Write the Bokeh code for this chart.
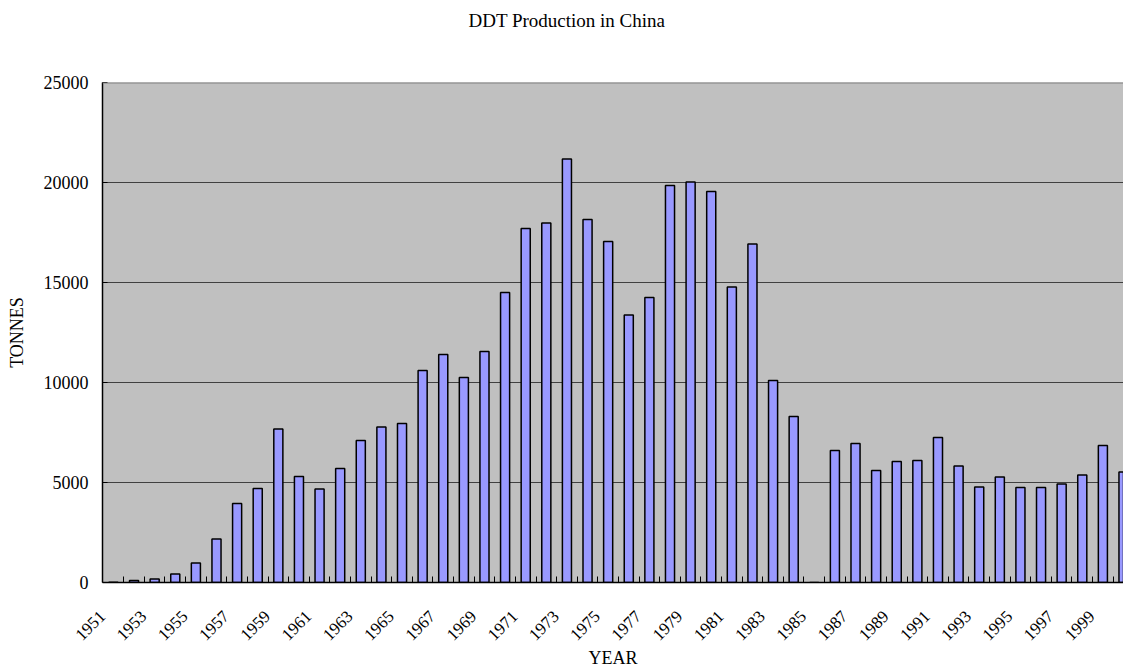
from bokeh.plotting import figure
from bokeh.models import Range1d, FixedTicker, Span, CustomJSTickFormatter, Title
from bokeh.embed import file_html
from bokeh.resources import INLINE
import math

years = list(range(1951, 2001))
tonnes = [10, 100, 180, 430, 970, 2180, 3950, 4700, 7670, 5300,
          4670, 5700, 7100, 7770, 7950, 10600, 11400, 10250, 11550, 14500,
          17700, 17970, 21170, 18150, 17050, 13380, 14250, 19850, 20020, 19550,
          14770, 16930, 10100, 8300, 0, 6600, 6950, 5600, 6050, 6100,
          7250, 5830, 4780, 5270, 4750, 4750, 4920, 5380, 6850, 5520]
label_years = list(range(1951, 2000, 2))
y_ticks = [0, 5000, 10000, 15000, 20000, 25000]
title_text = "DDT Production in China"

FONT = "Liberation Serif"
LABEL_SHIFT = 0.53  # rotated labels sit left of their category, as in the source

p = figure(frame_width=1021, frame_height=500,
           min_border_left=102, min_border_right=0, min_border_top=82, min_border_bottom=88,
           x_range=Range1d(1950.47, 2000.0), y_range=Range1d(0, 25000),
           output_backend="svg", toolbar_location=None, tools="")

p.title.text = title_text
p.title.text_font = FONT
p.title.text_font_size = "19px"
p.title.text_font_style = "normal"
p.title.text_color = "black"
p.title.align = "left"
p.title.offset = 366
p.title.standoff = 10

# empty spacer between the title and the plot area
spacer = Title(text=" ", text_font_size="19px", standoff=24)
p.add_layout(spacer, "above")

p.border_fill_color = "white"
p.outline_line_color = None
p.background_fill_color = "#C0C0C0"

p.vbar(x=years, top=tonnes, width=0.44, fill_color="#9999FF",
       line_color="black", line_width=1.5)

top = Span(location=25000, dimension="width", line_color="#808080", line_width=2)
p.add_layout(top)

# y axis
p.yaxis.ticker = FixedTicker(ticks=y_ticks)
p.yaxis.axis_label = "TONNES"
p.yaxis.axis_label_text_font = FONT
p.yaxis.axis_label_text_font_size = "18px"
p.yaxis.axis_label_text_font_style = "normal"
p.yaxis.axis_label_text_color = "black"
p.yaxis.axis_label_standoff = 14
p.yaxis.major_label_text_font = FONT
p.yaxis.major_label_text_font_size = "18px"
p.yaxis.major_label_text_color = "black"
p.yaxis.major_label_standoff = 14
p.yaxis.major_tick_in = 5
p.yaxis.major_tick_out = 0
p.yaxis.minor_tick_line_color = None
p.yaxis.axis_line_color = "black"
p.yaxis.axis_line_width = 1.5

# x axis
p.xaxis.ticker = FixedTicker(ticks=[y - LABEL_SHIFT for y in label_years],
                             minor_ticks=[y + 0.5 for y in range(1951, 2001)])
p.xaxis.formatter = CustomJSTickFormatter(
    code="return Math.round(tick + %s).toString();" % LABEL_SHIFT)
p.xaxis.major_tick_line_color = None
p.xaxis.minor_tick_in = 6
p.xaxis.minor_tick_out = 0
p.xaxis.minor_tick_line_color = "black"
p.xaxis.major_label_orientation = math.pi / 4
p.xaxis.major_label_text_font = FONT
p.xaxis.major_label_text_font_size = "17px"
p.xaxis.major_label_text_color = "black"
p.xaxis.major_label_standoff = 25
p.xaxis.axis_label = "YEAR"
p.xaxis.axis_label_text_font = FONT
p.xaxis.axis_label_text_font_size = "18px"
p.xaxis.axis_label_text_font_style = "normal"
p.xaxis.axis_label_text_color = "black"
p.xaxis.axis_label_standoff = 0
p.xaxis.axis_line_color = "black"
p.xaxis.axis_line_width = 1.5

p.xgrid.grid_line_color = None
p.ygrid.grid_line_color = "#404040"
p.ygrid.grid_line_width = 1

open("out.html", "w").write(file_html(p, INLINE))
